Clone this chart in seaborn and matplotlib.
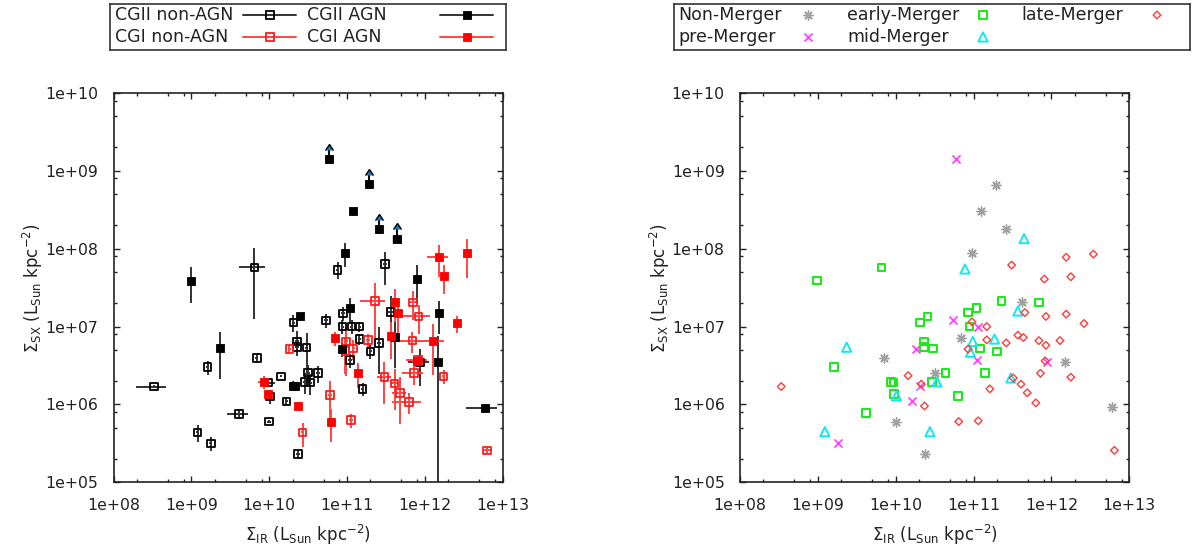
import numpy as np
import seaborn as sns
import matplotlib.pyplot as plt
from matplotlib.ticker import LogLocator, FormatStrFormatter, NullFormatter

# Positions are log10 values; errors are fractions of the value

# CGII AGN (black filled squares)
agn2_lx = [8.99, 11.08, 10.98, 11.90, 12.18, 10.40, 11.04, 10.93, 11.62, 10.30, 10.33, 9.37, 12.17, 12.77]
agn2_ly = [7.59, 8.49, 7.94, 7.61, 7.17, 7.13, 7.24, 6.71, 6.86, 6.24, 6.24, 6.72, 6.54, 5.96]
agn2_fx = [0, 0, 0, 0, 0, 0, 0.05, 0, 0, 0.1, 0, 0, 0, 0.42]
agn2_fy = [0.48, 0, 0.34, 0.5, 0.46, 0.12, 0.34, 0.2, 0.6, 0.15, 0.1, 0.6, 1.2, 0.1]
# CGII AGN lower limits (arrows)
lim_lx = [10.77, 11.28, 11.41, 11.64]
lim_ly = [9.15, 8.83, 8.25, 8.13]
lim_fx = [0.06, 0, 0, 0.1]

# CGI AGN (red filled squares)
agn1_lx = [12.18, 12.54, 12.24, 11.62, 11.66, 12.415, 10.84, 11.57, 12.10, 11.14, 11.90, 10.80, 10.37, 9.93, 9.99]
agn1_ly = [7.89, 7.94, 7.645, 7.32, 7.17, 7.04, 6.85, 6.885, 6.82, 6.40, 6.56, 5.78, 5.98, 6.29, 6.135]
agn1_fx = [0.3, 0, 0, 0.1, 0, 0, 0, 0, 0.42, 0, 0.15, 0, 0, 0.15, 0]
agn1_fy = [0.44, 0.51, 0.4, 0.45, 0.5, 0.25, 0.2, 0.5, 0.64, 0.35, 0.12, 0.45, 0.12, 0.2, 0.12]

# CGI non-AGN (red open squares)
non1_lx = [11.36, 11.85, 11.92, 10.99, 11.27, 11.84, 11.08, 10.98, 10.26, 10.43,
           10.78, 11.05, 11.48, 11.61, 11.68, 11.80, 11.86, 11.91, 12.24, 12.80]
non1_ly = [7.33, 7.31, 7.13, 6.81, 6.83, 6.82, 6.72, 6.69, 6.71, 5.64,
           6.12, 5.80, 6.35, 6.27, 6.15, 6.03, 6.40, 6.57, 6.36, 5.41]
non1_fx = [0.36, 0.1, 0.4, 0.05, 0.05, 0.4, 0.05, 0.05, 0.05, 0.05,
           0.05, 0.05, 0.2, 0.1, 0.2, 0.4, 0.3, 0.3, 0.05, 0.08]
non1_fy = [0.7, 0.4, 0.4, 0.64, 0.2, 0.3, 0.3, 0.5, 0.12, 0.34,
           0.53, 0.2, 0.55, 0.55, 0.6, 0.3, 0.3, 0.15, 0.2, 0.08]

# CGII non-AGN (black open squares)
non2_lx = [9.81, 10.88, 11.49, 10.31, 10.73, 10.95, 11.56, 10.94, 11.06, 11.16, 11.16, 11.41,
           11.30, 11.04, 10.36, 10.48, 10.36, 9.84, 10.50, 10.63, 10.15, 10.46, 10.53, 9.99,
           10.01, 10.22, 10.00, 10.37, 9.61, 11.20, 11.94, 9.21, 8.52, 9.08, 9.25]
non2_ly = [7.76, 7.73, 7.80, 7.05, 7.08, 7.17, 7.19, 7.00, 7.00, 7.00, 6.84, 6.79,
           6.68, 6.57, 6.81, 6.73, 6.74, 6.60, 6.41, 6.40, 6.36, 6.29, 6.28, 6.28,
           6.10, 6.04, 5.78, 5.36, 5.88, 6.20, 6.54, 6.48, 6.23, 5.64, 5.50]
non2_fx = [0.37, 0.05, 0.05, 0.05, 0.05, 0.05, 0.1, 0.05, 0.05, 0.05, 0.05, 0.05,
           0.05, 0.05, 0.05, 0.05, 0.05, 0.05, 0.05, 0.05, 0.03, 0.05, 0.05, 0.2,
           0.05, 0.05, 0.05, 0.05, 0.3, 0.05, 0.3, 0.05, 0.42, 0.05, 0.05]
non2_fy = [0.78, 0.25, 0.45, 0.25, 0.2, 0.2, 0.6, 0.2, 0.2, 0.15, 0.15, 0.6,
           0.2, 0.2, 0.35, 0.55, 0.2, 0.12, 0.25, 0.25, 0.03, 0.3, 0.3, 0.1,
           0.2, 0.1, 0.05, 0.1, 0.12, 0.2, 0.5, 0.2, 0.05, 0.25, 0.2]

# Merger stages (right panel)
nonm_lx = [9.85, 10.50, 10.00, 10.38, 11.29, 11.09, 11.42, 10.98, 11.62, 10.84, 12.17, 12.78]
nonm_ly = [6.60, 6.41, 5.78, 5.36, 8.82, 8.49, 8.25, 7.94, 7.32, 6.85, 6.54, 5.97]
pre_lx = [10.78, 10.26, 10.31, 10.21, 9.26, 10.73, 11.06, 11.04, 11.95]
pre_ly = [9.15, 6.71, 6.24, 6.05, 5.50, 7.08, 7.00, 6.57, 6.55]
early_lx = [8.99, 9.82, 10.31, 10.41, 10.36, 10.36, 10.48, 9.21, 9.94, 9.97, 10.47, 9.98,
            9.62, 11.36, 11.84, 10.93, 11.04, 10.95, 11.08, 11.30, 10.64, 11.15, 10.80]
early_ly = [7.59, 7.76, 7.05, 7.13, 6.81, 6.735, 6.72, 6.48, 6.29, 6.28, 6.29, 6.135,
            5.89, 7.33, 7.31, 7.18, 7.24, 7.00, 6.72, 6.68, 6.40, 6.40, 6.11]
mid_lx = [9.37, 10.53, 10.01, 9.09, 10.44, 11.65, 10.89, 11.57, 10.99, 11.27, 10.96, 11.48]
mid_ly = [6.735, 6.29, 6.11, 5.65, 5.65, 8.13, 7.74, 7.20, 6.81, 6.84, 6.67, 6.34]
late_lx = [8.53, 10.16, 10.33, 10.37, 12.19, 12.54, 11.49, 11.91, 12.25, 11.66, 11.93, 12.19,
           12.42, 10.98, 11.17, 11.17, 11.42, 11.57, 11.64, 11.84, 11.93, 12.11, 10.93, 11.92,
           11.86, 12.25, 11.51, 11.61, 11.69, 11.80, 11.21, 10.81, 11.06, 12.81]
late_ly = [6.23, 6.37, 6.26, 5.98, 7.89, 7.93, 7.79, 7.61, 7.64, 7.18, 7.13, 7.16,
           7.04, 7.06, 7.00, 6.83, 6.79, 6.89, 6.86, 6.82, 6.76, 6.82, 6.71, 6.56,
           6.40, 6.35, 6.34, 6.26, 6.15, 6.02, 6.20, 5.78, 5.79, 5.41]

xlabel = r'$\Sigma_{\mathrm{IR}}$ (L$_{\mathrm{Sun}}$ kpc$^{\mathrm{-2}}$)'
ylabel = r'$\Sigma_{\mathrm{SX}}$ (L$_{\mathrm{Sun}}$ kpc$^{\mathrm{-2}}$)'

sns.set_style('ticks')
plt.rcParams['font.family'] = ['DejaVu Sans']
plt.rcParams['mathtext.fontset'] = 'dejavusans'

W, H = 1200, 553
fig = plt.figure(figsize=(W / 100, H / 100), dpi=100)
ax1 = fig.add_axes([113.5 / W, 1 - 482.3 / H, 389.2 / W, 389.3 / H])
ax2 = fig.add_axes([740 / W, 1 - 482.3 / H, 389.2 / W, 389.3 / H])


def style_axis(ax):
    ax.set_xscale('log')
    ax.set_yscale('log')
    ax.set_xlim(1e8, 1e13)
    ax.set_ylim(1e5, 1e10)
    for a in (ax.xaxis, ax.yaxis):
        a.set_major_locator(LogLocator(base=10, numticks=12))
        a.set_minor_locator(LogLocator(base=10, subs=(2, 5, 8), numticks=12))
        a.set_major_formatter(FormatStrFormatter('%.0e'))
        a.set_minor_formatter(NullFormatter())
    ax.tick_params(which='both', direction='in', top=True, right=True, width=1, color='#222222')
    ax.tick_params(which='major', length=4.5, labelsize=11.3, labelcolor='#222222')
    ax.tick_params(which='minor', length=2.2)
    ax.tick_params(axis='x', pad=11)
    ax.tick_params(axis='y', pad=11)
    for s in ax.spines.values():
        s.set_linewidth(1.2)
        s.set_color('#222222')


def draw_group(ax, lx, ly, fx, fy, color, ecolor, filled):
    x = 10 ** np.array(lx)
    y = 10 ** np.array(ly)
    ax.errorbar(x, y, xerr=x * np.array(fx), yerr=y * np.array(fy), fmt='none',
                ecolor=ecolor, elinewidth=1.4, capsize=0, zorder=2)
    if filled:
        sns.scatterplot(x=x, y=y, ax=ax, marker='s', s=40, color=color,
                        edgecolor=color, linewidth=0.6, zorder=3, legend=False)
    else:
        sns.scatterplot(x=x, y=y, ax=ax, marker='s', s=30, facecolor='none',
                        edgecolor=color, linewidth=1.3, zorder=3, legend=False)


style_axis(ax1)
style_axis(ax2)

# left panel
draw_group(ax1, non2_lx, non2_ly, non2_fx, non2_fy, 'black', '#333333', False)
draw_group(ax1, non1_lx, non1_ly, non1_fx, non1_fy, '#ff1a1a', '#ff4545', False)
draw_group(ax1, agn2_lx, agn2_ly, agn2_fx, agn2_fy, 'black', '#333333', True)
draw_group(ax1, agn1_lx, agn1_ly, agn1_fx, agn1_fy, '#ff0000', '#ff4545', True)
lim_x = 10 ** np.array(lim_lx)
lim_y = 10 ** np.array(lim_ly)
ax1.errorbar(lim_x, lim_y, xerr=lim_x * np.array(lim_fx), yerr=lim_y * 0.32, lolims=True,
             fmt='none', ecolor='black', elinewidth=1.4, capsize=3, zorder=2)
sns.scatterplot(x=lim_x, y=lim_y, ax=ax1, marker='s', s=40, color='black',
                edgecolor='black', linewidth=0.6, zorder=3, legend=False)

# right panel
stages = [
    ('Non-Merger', nonm_lx, nonm_ly, (8, 2, 0), '#a0a0a0', 44, 1.0, False),
    ('pre-Merger', pre_lx, pre_ly, 'x', '#ff3cff', 34, 1.2, False),
    ('early-Merger', early_lx, early_ly, 's', '#1ee81e', 30, 1.5, True),
    ('mid-Merger', mid_lx, mid_ly, '^', '#16e6f0', 44, 1.4, True),
    ('late-Merger', late_lx, late_ly, 'D', '#ff3b3b', 15, 1.0, True),
]
for name, lx, ly, mk, c, s, lw, hollow in stages:
    x = 10 ** np.array(lx)
    y = 10 ** np.array(ly)
    if hollow:
        sns.scatterplot(x=x, y=y, ax=ax2, marker=mk, s=s, facecolor='none',
                        edgecolor=c, linewidth=lw, legend=False, zorder=3)
    else:
        sns.scatterplot(x=x, y=y, ax=ax2, marker=mk, s=s, color=c,
                        linewidth=lw, legend=False, zorder=3)

for ax in (ax1, ax2):
    ax.set_xlabel(xlabel, fontsize=12, color='#222222')
    ax.set_ylabel(ylabel, fontsize=12, color='#222222')
    ax.xaxis.set_label_coords(0.5, -0.105)
    ax.yaxis.set_label_coords(-0.175, 0.5)


# gnuplot-style keys above each panel (pixel coordinates of the figure)
def key_axes(x0, x1, y0, y1):
    k = fig.add_axes([x0 / W, 1 - y1 / H, (x1 - x0) / W, (y1 - y0) / H])
    k.set_xlim(x0, x1)
    k.set_ylim(y1, y0)
    k.set_xticks([])
    k.set_yticks([])
    for s in k.spines.values():
        s.set_linewidth(1.2)
        s.set_color('#333333')
    k.patch.set_alpha(0)
    return k


k1 = key_axes(110, 506, 4, 50)
key1 = [
    ('CGII non-AGN', 115, 243, 15, 'black', '#333333', False),
    ('CGII AGN', 307, 440, 15, 'black', '#333333', True),
    ('CGI non-AGN', 115, 243, 37, '#ff1a1a', '#ff4545', False),
    ('CGI AGN', 307, 440, 37, '#ff0000', '#ff4545', True),
]
for label, tx, lx0, yy, c, ec, filled in key1:
    k1.text(tx, yy, label, fontsize=12.5, color='#222222', ha='left', va='center')
    k1.plot([lx0, lx0 + 53], [yy, yy], color=ec, lw=1.4)
    k1.plot([lx0 + 26.5], [yy], marker='s', ms=5.5 if not filled else 6.2,
            mfc=c if filled else 'none', mec=c, mew=1.3 if not filled else 0.6)

k2 = key_axes(674, 1190, 4, 50)
pos2 = [(678, 808, 15), (678, 808, 37), (847, 983, 15), (847, 983, 37), (1021, 1157, 15)]
for (name, lx, ly, mk, c, s, lw, hollow), (tx, mx, yy) in zip(stages, pos2):
    k2.text(tx, yy, name, fontsize=12.5, color='#222222', ha='left', va='center')
    k2.scatter([mx], [yy], marker=mk, s=s, facecolor='none' if hollow else c,
               edgecolor=c, linewidth=lw)

fig.savefig('out.png', dpi=100)
